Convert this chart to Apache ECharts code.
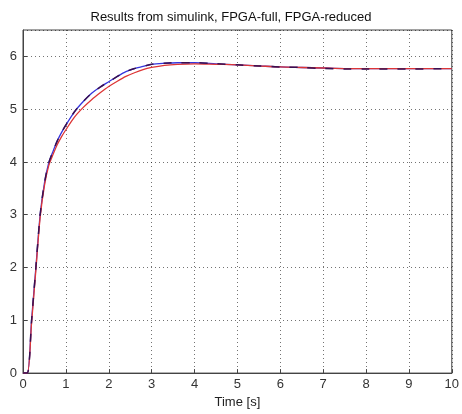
<!DOCTYPE html>
<html><head><meta charset="utf-8">
<script src="https://cdn.jsdelivr.net/npm/echarts@6/dist/echarts.min.js"></script>
<style>html,body{margin:0;padding:0;background:#fff}#c{width:462px;height:414px}</style>
</head><body><div id="c"></div>
<script>
const title = 'Results from simulink, FPGA-full, FPGA-reduced';
const xLabel = 'Time [s]';
const t =        [0, 0.1, 0.2, 0.3, 0.4, 0.5, 0.6, 0.7, 0.8, 0.9, 1.0, 1.2, 1.4, 1.6, 1.8, 2.0, 2.2, 2.4, 2.6, 2.8, 3.0, 3.3, 3.6, 4.0, 4.5, 5.0, 5.5, 6.0, 6.5, 7.0, 7.5, 8.0, 9.0, 10.0];
const simulink = [0, 0, 1.0, 2.0, 3.0, 3.6, 3.98, 4.2, 4.4, 4.56, 4.7, 4.95, 5.14, 5.3, 5.42, 5.52, 5.62, 5.71, 5.77, 5.81, 5.85, 5.87, 5.88, 5.88, 5.86, 5.84, 5.82, 5.8, 5.79, 5.78, 5.77, 5.77, 5.77, 5.77];
const fpgaFull = [0, 0, 0.95, 1.95, 2.95, 3.55, 3.93, 4.14, 4.33, 4.48, 4.61, 4.85, 5.03, 5.18, 5.31, 5.43, 5.53, 5.62, 5.69, 5.75, 5.79, 5.83, 5.85, 5.86, 5.85, 5.84, 5.82, 5.8, 5.79, 5.78, 5.77, 5.77, 5.77, 5.77];
const fpgaRed =  [0, 0, 1.0, 2.0, 3.0, 3.6, 3.98, 4.2, 4.4, 4.56, 4.7, 4.95, 5.14, 5.3, 5.42, 5.52, 5.62, 5.71, 5.77, 5.81, 5.85, 5.87, 5.88, 5.88, 5.86, 5.84, 5.82, 5.8, 5.79, 5.77, 5.76, 5.76, 5.76, 5.77];
const pair = ys => t.map((x, i) => [x, ys[i]]);
const font = 'Liberation Sans, Arial, sans-serif';
const chart = echarts.init(document.getElementById('c'), null, {renderer: 'canvas'});
const dotted = {show: true, lineStyle: {color: '#000', type: [1, 3], width: 1, opacity: 0.55}};
chart.setOption({
  animation: false,
  backgroundColor: '#fff',
  title: {text: title, left: 'center', top: 6, textStyle: {fontFamily: font, fontSize: 13, fontWeight: 'normal', color: '#111'}},
  grid: {left: 23, right: 3, top: 30, bottom: 39, show: true, borderColor: '#444', borderWidth: 1, backgroundColor: '#fff'},
  xAxis: {type: 'value', min: 0, max: 10, interval: 1,
    name: xLabel, nameLocation: 'middle', nameGap: 21,
    nameTextStyle: {fontFamily: font, fontSize: 13, color: '#222'},
    axisLine: {lineStyle: {color: '#444'}},
    axisTick: {inside: true, length: 4, lineStyle: {color: '#444'}},
    axisLabel: {fontFamily: font, fontSize: 13, color: '#333', margin: 5},
    splitLine: dotted},
  yAxis: {type: 'value', min: 0, max: 6.5, interval: 1,
    axisLine: {show: true, lineStyle: {color: '#444'}},
    axisTick: {show: true, inside: true, length: 4, lineStyle: {color: '#444'}},
    axisLabel: {fontFamily: font, fontSize: 13, color: '#333', margin: 6, showMaxLabel: false},
    splitLine: dotted},
  series: [
    {name: 'simulink', type: 'line', data: pair(simulink), showSymbol: false, smooth: 0.3, lineStyle: {color: '#3535dd', width: 1.3}},
    {name: 'FPGA-full', type: 'line', data: pair(fpgaFull), showSymbol: false, smooth: 0.3, lineStyle: {color: '#dd3535', width: 1.3}},
    {name: 'FPGA-reduced', type: 'line', data: pair(fpgaRed), showSymbol: false, smooth: 0.3, lineStyle: {color: '#3a1050', width: 1.5, type: [8, 10]}}
  ]
});
</script></body></html>
